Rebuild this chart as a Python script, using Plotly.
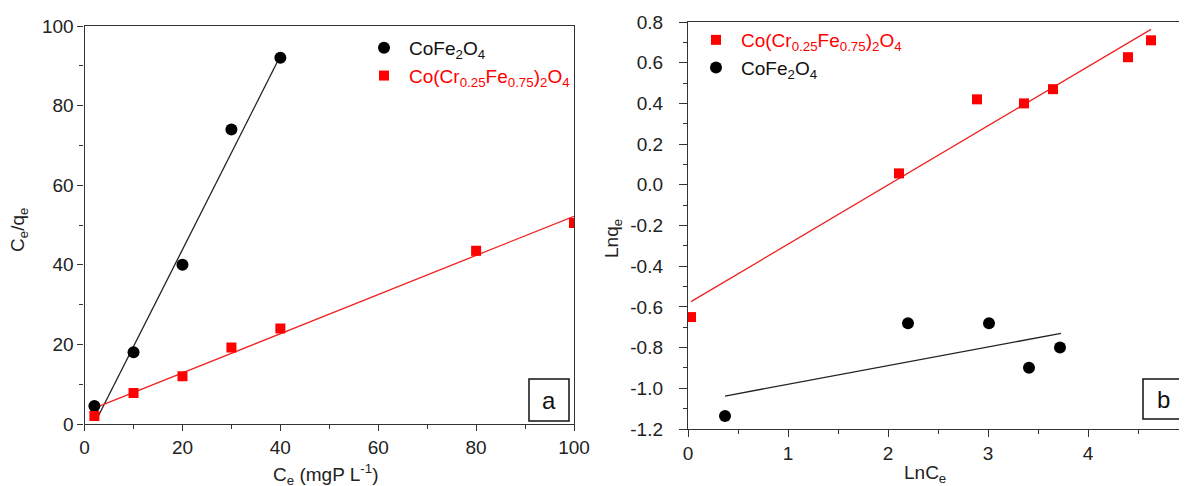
import plotly.graph_objects as go

W, H = 1187, 486
OFF = 8  # page body margin of the browser

# ---- Panel a data (Langmuir) ----
a_cofe_x = [2, 10, 20, 30, 40]
a_cofe_y = [4.5, 18, 40, 74, 92]
a_cofe_fit_x = [2.6, 39.6]
a_cofe_fit_y = [1.5, 91.5]

a_cocr_x = [2, 10, 20, 30, 40, 80, 100]
a_cocr_y = [2.0, 7.8, 12.0, 19.2, 24.0, 43.5, 50.5]
a_cocr_fit_x = [2, 100]
a_cocr_fit_y = [4.0, 52.2]

# ---- Panel b data (Freundlich) ----
b_cocr_x = [0.03, 2.11, 2.89, 3.36, 3.65, 4.40, 4.63]
b_cocr_y = [-0.65, 0.056, 0.42, 0.40, 0.47, 0.627, 0.71]
b_cocr_fit_x = [0.03, 4.63]
b_cocr_fit_y = [-0.574, 0.764]

b_cofe_x = [0.37, 2.20, 3.01, 3.41, 3.72]
b_cofe_y = [-1.136, -0.68, -0.68, -0.899, -0.80]
b_cofe_fit_x = [0.37, 3.73]
b_cofe_fit_y = [-1.038, -0.73]

name_cofe = "CoFe<sub>2</sub>O<sub>4</sub>"
name_cocr = "<span style='color:#ff0000'>Co(Cr<sub>0.25</sub>Fe<sub>0.75</sub>)<sub>2</sub>O<sub>4</sub></span>"

RED = "#ff0000"
BLK = "#000000"
FONT = "Liberation Sans, Arial, sans-serif"
TXT = "#222222"

fig = go.Figure()

# panel a
fig.add_trace(go.Scatter(x=a_cofe_fit_x, y=a_cofe_fit_y, mode="lines",
                         line=dict(color="#222222", width=1.3), showlegend=False,
                         xaxis="x", yaxis="y"))
fig.add_trace(go.Scatter(x=a_cocr_fit_x, y=a_cocr_fit_y, mode="lines",
                         line=dict(color="#ee2222", width=1.3), showlegend=False,
                         xaxis="x", yaxis="y"))
fig.add_trace(go.Scatter(x=a_cofe_x, y=a_cofe_y, mode="markers", name=name_cofe,
                         marker=dict(symbol="circle", size=12, color=BLK),
                         xaxis="x", yaxis="y", legend="legend"))
fig.add_trace(go.Scatter(x=a_cocr_x, y=a_cocr_y, mode="markers", name=name_cocr,
                         marker=dict(symbol="square", size=10, color=RED),
                         xaxis="x", yaxis="y", legend="legend"))

# panel b
fig.add_trace(go.Scatter(x=b_cocr_fit_x, y=b_cocr_fit_y, mode="lines",
                         line=dict(color="#ee2222", width=1.3), showlegend=False,
                         xaxis="x2", yaxis="y2"))
fig.add_trace(go.Scatter(x=b_cofe_fit_x, y=b_cofe_fit_y, mode="lines",
                         line=dict(color="#222222", width=1.3), showlegend=False,
                         xaxis="x2", yaxis="y2"))
fig.add_trace(go.Scatter(x=b_cocr_x, y=b_cocr_y, mode="markers", name=name_cocr,
                         marker=dict(symbol="square", size=10, color=RED),
                         xaxis="x2", yaxis="y2", legend="legend2"))
fig.add_trace(go.Scatter(x=b_cofe_x, y=b_cofe_y, mode="markers", name=name_cofe,
                         marker=dict(symbol="circle", size=12, color=BLK),
                         xaxis="x2", yaxis="y2", legend="legend2"))


def px_x(p):
    return (p - OFF) / W


def px_y(p):
    return (H - (p - OFF)) / H


axis_common = dict(showgrid=False, zeroline=False, showline=True, linecolor="#333333",
                   linewidth=1.3, mirror=True, ticks="outside", tickwidth=1.2,
                   tickcolor="#333333", tickfont=dict(family=FONT, size=19, color=TXT),
                   automargin=False)


def ann(text, x, y, size=19, angle=0, color=TXT):
    return dict(text=text, x=px_x(x), y=px_y(y), xref="paper", yref="paper",
                xanchor="center", yanchor="middle", showarrow=False, textangle=angle,
                font=dict(family=FONT, size=size, color=color))


fig.update_layout(
    width=W, height=H,
    margin=dict(l=0, r=0, t=0, b=0),
    paper_bgcolor="white", plot_bgcolor="white",
    font=dict(family=FONT, size=19, color=TXT),
    xaxis=dict(domain=[px_x(84.6), px_x(574)], range=[0, 100], tickvals=[0, 20, 40, 60, 80, 100],
               ticklen=6, minor=dict(ticks="outside", ticklen=4, dtick=10, tickcolor="#333333"),
               anchor="y", **axis_common),
    yaxis=dict(domain=[px_y(424), px_y(26)], range=[0, 100], tickvals=[0, 20, 40, 60, 80, 100],
               ticklen=6, minor=dict(ticks="outside", ticklen=4, dtick=10, tickcolor="#333333"),
               anchor="x", **axis_common),
    xaxis2=dict(domain=[px_x(688), px_x(1188)], range=[0, 5], tickvals=[0, 1, 2, 3, 4, 5],
                ticklen=7, minor=dict(ticks="outside", ticklen=4, dtick=0.5, tickcolor="#333333"),
                anchor="y2", **axis_common),
    yaxis2=dict(domain=[px_y(429), px_y(22)], range=[-1.2, 0.8],
                tickvals=[-1.2, -1.0, -0.8, -0.6, -0.4, -0.2, 0.0, 0.2, 0.4, 0.6, 0.8],
                ticktext=["-1.2", "-1.0", "-0.8", "-0.6", "-0.4", "-0.2", "0.0", "0.2", "0.4", "0.6", "0.8"],
                ticklen=8, ticklabelstandoff=12,
                minor=dict(ticks="outside", ticklen=4, dtick=0.1, tickcolor="#333333"),
                anchor="x2", **axis_common),
    legend=dict(x=px_x(359), y=px_y(29), xanchor="left", yanchor="top",
                bgcolor="rgba(0,0,0,0)", font=dict(family=FONT, size=19, color="#111111"),
                tracegroupgap=0, itemsizing="trace", itemwidth=40),
    legend2=dict(x=px_x(691), y=px_y(21), xanchor="left", yanchor="top",
                 bgcolor="rgba(0,0,0,0)", font=dict(family=FONT, size=19, color="#111111"),
                 tracegroupgap=0, itemsizing="trace", itemwidth=40),
    shapes=[
        dict(type="rect", xref="paper", yref="paper",
             x0=px_x(529), x1=px_x(569), y0=px_y(421), y1=px_y(379),
             line=dict(color="#111111", width=1.5), fillcolor="white"),
        dict(type="rect", xref="paper", yref="paper",
             x0=px_x(1143), x1=px_x(1183), y0=px_y(419), y1=px_y(379),
             line=dict(color="#111111", width=1.5), fillcolor="white"),
    ],
    annotations=[
        ann("a", 549, 400, size=24, color="#111111"),
        ann("b", 1163, 399, size=24, color="#111111"),
        ann("C<sub>e</sub>/q<sub>e</sub>", 19, 230, angle=-90),
        ann("C<sub>e</sub> (mgP L<sup>-1</sup>)", 325, 474),
        ann("Lnq<sub>e</sub>", 613, 238, angle=-90),
        ann("LnC<sub>e</sub>", 925, 474),
    ],
)

fig.write_html("out.html")
